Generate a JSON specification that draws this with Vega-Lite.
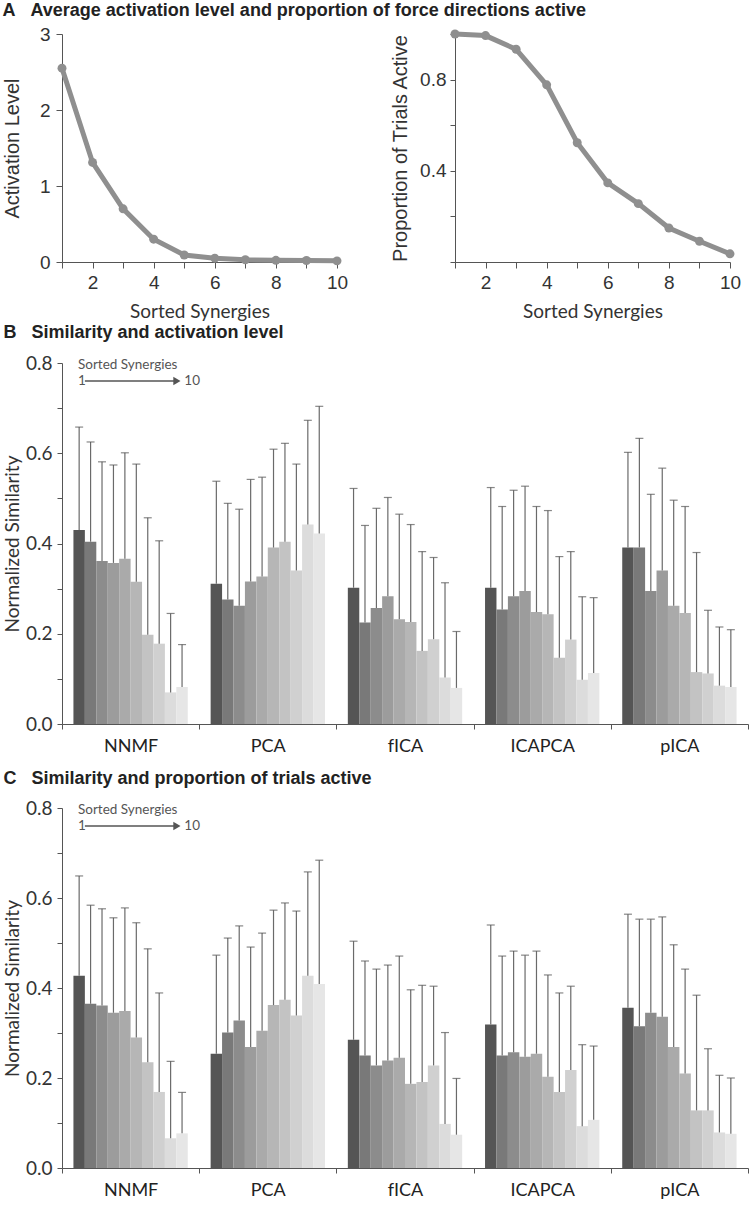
{
  "$schema": "https://vega.github.io/schema/vega-lite/v6.json",
  "padding": {"left": 2, "top": 2, "right": 2, "bottom": 2},
  "config": {
    "view": {"stroke": null},
    "axis": {"grid": false, "domainColor": "#555", "tickColor": "#555", "labelColor": "#333", "titleColor": "#333", "titleFontWeight": "normal"},
    "title": {"font": "Liberation Sans", "fontWeight": "bold", "fontSize": 18, "anchor": "start", "color": "#222"}
  },
  "datasets": {
    "act": [
      {"syn": 1, "act": 2.55, "prop": 1.0},
      {"syn": 2, "act": 1.31, "prop": 0.993},
      {"syn": 3, "act": 0.70, "prop": 0.933},
      {"syn": 4, "act": 0.30, "prop": 0.777},
      {"syn": 5, "act": 0.092, "prop": 0.523},
      {"syn": 6, "act": 0.05, "prop": 0.347},
      {"syn": 7, "act": 0.03, "prop": 0.256},
      {"syn": 8, "act": 0.022, "prop": 0.149},
      {"syn": 9, "act": 0.02, "prop": 0.091},
      {"syn": 10, "act": 0.015, "prop": 0.036}
    ],
    "ann": [
      {"kind": "text", "pos": 1.4, "y": 0.795, "label": "Sorted Synergies"},
      {"kind": "text", "pos": 1.4, "y": 0.76, "label": "1"},
      {"kind": "text", "pos": 10.7, "y": 0.76, "label": "10"},
      {"kind": "line", "pos": 2.0, "pos2": 9.8, "y": 0.76},
      {"kind": "head", "pos": 10.05, "y": 0.76}
    ],
    "sim": [
      {"panel": "B", "method": "NNMF", "syn": 1, "mean": 0.430, "upper": 0.658},
      {"panel": "B", "method": "NNMF", "syn": 2, "mean": 0.404, "upper": 0.625},
      {"panel": "B", "method": "NNMF", "syn": 3, "mean": 0.361, "upper": 0.581},
      {"panel": "B", "method": "NNMF", "syn": 4, "mean": 0.357, "upper": 0.574},
      {"panel": "B", "method": "NNMF", "syn": 5, "mean": 0.366, "upper": 0.601},
      {"panel": "B", "method": "NNMF", "syn": 6, "mean": 0.315, "upper": 0.576},
      {"panel": "B", "method": "NNMF", "syn": 7, "mean": 0.198, "upper": 0.457},
      {"panel": "B", "method": "NNMF", "syn": 8, "mean": 0.178, "upper": 0.406},
      {"panel": "B", "method": "NNMF", "syn": 9, "mean": 0.070, "upper": 0.245},
      {"panel": "B", "method": "NNMF", "syn": 10, "mean": 0.082, "upper": 0.176},
      {"panel": "B", "method": "PCA", "syn": 1, "mean": 0.311, "upper": 0.538},
      {"panel": "B", "method": "PCA", "syn": 2, "mean": 0.276, "upper": 0.489},
      {"panel": "B", "method": "PCA", "syn": 3, "mean": 0.262, "upper": 0.476},
      {"panel": "B", "method": "PCA", "syn": 4, "mean": 0.316, "upper": 0.542},
      {"panel": "B", "method": "PCA", "syn": 5, "mean": 0.327, "upper": 0.547},
      {"panel": "B", "method": "PCA", "syn": 6, "mean": 0.391, "upper": 0.609},
      {"panel": "B", "method": "PCA", "syn": 7, "mean": 0.404, "upper": 0.622},
      {"panel": "B", "method": "PCA", "syn": 8, "mean": 0.340, "upper": 0.576},
      {"panel": "B", "method": "PCA", "syn": 9, "mean": 0.442, "upper": 0.673},
      {"panel": "B", "method": "PCA", "syn": 10, "mean": 0.422, "upper": 0.704},
      {"panel": "B", "method": "fICA", "syn": 1, "mean": 0.302, "upper": 0.522},
      {"panel": "B", "method": "fICA", "syn": 2, "mean": 0.225, "upper": 0.440},
      {"panel": "B", "method": "fICA", "syn": 3, "mean": 0.257, "upper": 0.478},
      {"panel": "B", "method": "fICA", "syn": 4, "mean": 0.283, "upper": 0.502},
      {"panel": "B", "method": "fICA", "syn": 5, "mean": 0.232, "upper": 0.465},
      {"panel": "B", "method": "fICA", "syn": 6, "mean": 0.226, "upper": 0.442},
      {"panel": "B", "method": "fICA", "syn": 7, "mean": 0.162, "upper": 0.382},
      {"panel": "B", "method": "fICA", "syn": 8, "mean": 0.188, "upper": 0.369},
      {"panel": "B", "method": "fICA", "syn": 9, "mean": 0.103, "upper": 0.313},
      {"panel": "B", "method": "fICA", "syn": 10, "mean": 0.080, "upper": 0.205},
      {"panel": "B", "method": "ICAPCA", "syn": 1, "mean": 0.302, "upper": 0.524},
      {"panel": "B", "method": "ICAPCA", "syn": 2, "mean": 0.254, "upper": 0.482},
      {"panel": "B", "method": "ICAPCA", "syn": 3, "mean": 0.283, "upper": 0.518},
      {"panel": "B", "method": "ICAPCA", "syn": 4, "mean": 0.295, "upper": 0.527},
      {"panel": "B", "method": "ICAPCA", "syn": 5, "mean": 0.248, "upper": 0.482},
      {"panel": "B", "method": "ICAPCA", "syn": 6, "mean": 0.243, "upper": 0.473},
      {"panel": "B", "method": "ICAPCA", "syn": 7, "mean": 0.147, "upper": 0.371},
      {"panel": "B", "method": "ICAPCA", "syn": 8, "mean": 0.187, "upper": 0.382},
      {"panel": "B", "method": "ICAPCA", "syn": 9, "mean": 0.098, "upper": 0.282},
      {"panel": "B", "method": "ICAPCA", "syn": 10, "mean": 0.113, "upper": 0.280},
      {"panel": "B", "method": "pICA", "syn": 1, "mean": 0.391, "upper": 0.602},
      {"panel": "B", "method": "pICA", "syn": 2, "mean": 0.391, "upper": 0.633},
      {"panel": "B", "method": "pICA", "syn": 3, "mean": 0.295, "upper": 0.509},
      {"panel": "B", "method": "pICA", "syn": 4, "mean": 0.340, "upper": 0.567},
      {"panel": "B", "method": "pICA", "syn": 5, "mean": 0.262, "upper": 0.496},
      {"panel": "B", "method": "pICA", "syn": 6, "mean": 0.246, "upper": 0.482},
      {"panel": "B", "method": "pICA", "syn": 7, "mean": 0.115, "upper": 0.380},
      {"panel": "B", "method": "pICA", "syn": 8, "mean": 0.112, "upper": 0.252},
      {"panel": "B", "method": "pICA", "syn": 9, "mean": 0.085, "upper": 0.215},
      {"panel": "B", "method": "pICA", "syn": 10, "mean": 0.082, "upper": 0.209},
      {"panel": "C", "method": "NNMF", "syn": 1, "mean": 0.427, "upper": 0.649},
      {"panel": "C", "method": "NNMF", "syn": 2, "mean": 0.365, "upper": 0.584},
      {"panel": "C", "method": "NNMF", "syn": 3, "mean": 0.361, "upper": 0.576},
      {"panel": "C", "method": "NNMF", "syn": 4, "mean": 0.345, "upper": 0.556},
      {"panel": "C", "method": "NNMF", "syn": 5, "mean": 0.349, "upper": 0.578},
      {"panel": "C", "method": "NNMF", "syn": 6, "mean": 0.290, "upper": 0.545},
      {"panel": "C", "method": "NNMF", "syn": 7, "mean": 0.235, "upper": 0.487},
      {"panel": "C", "method": "NNMF", "syn": 8, "mean": 0.169, "upper": 0.389},
      {"panel": "C", "method": "NNMF", "syn": 9, "mean": 0.066, "upper": 0.237},
      {"panel": "C", "method": "NNMF", "syn": 10, "mean": 0.077, "upper": 0.168},
      {"panel": "C", "method": "PCA", "syn": 1, "mean": 0.254, "upper": 0.473},
      {"panel": "C", "method": "PCA", "syn": 2, "mean": 0.301, "upper": 0.511},
      {"panel": "C", "method": "PCA", "syn": 3, "mean": 0.328, "upper": 0.538},
      {"panel": "C", "method": "PCA", "syn": 4, "mean": 0.269, "upper": 0.491},
      {"panel": "C", "method": "PCA", "syn": 5, "mean": 0.305, "upper": 0.522},
      {"panel": "C", "method": "PCA", "syn": 6, "mean": 0.362, "upper": 0.573},
      {"panel": "C", "method": "PCA", "syn": 7, "mean": 0.374, "upper": 0.589},
      {"panel": "C", "method": "PCA", "syn": 8, "mean": 0.339, "upper": 0.571},
      {"panel": "C", "method": "PCA", "syn": 9, "mean": 0.427, "upper": 0.658},
      {"panel": "C", "method": "PCA", "syn": 10, "mean": 0.409, "upper": 0.684},
      {"panel": "C", "method": "fICA", "syn": 1, "mean": 0.285, "upper": 0.504},
      {"panel": "C", "method": "fICA", "syn": 2, "mean": 0.250, "upper": 0.460},
      {"panel": "C", "method": "fICA", "syn": 3, "mean": 0.228, "upper": 0.442},
      {"panel": "C", "method": "fICA", "syn": 4, "mean": 0.239, "upper": 0.451},
      {"panel": "C", "method": "fICA", "syn": 5, "mean": 0.245, "upper": 0.471},
      {"panel": "C", "method": "fICA", "syn": 6, "mean": 0.187, "upper": 0.396},
      {"panel": "C", "method": "fICA", "syn": 7, "mean": 0.191, "upper": 0.406},
      {"panel": "C", "method": "fICA", "syn": 8, "mean": 0.228, "upper": 0.404},
      {"panel": "C", "method": "fICA", "syn": 9, "mean": 0.098, "upper": 0.301},
      {"panel": "C", "method": "fICA", "syn": 10, "mean": 0.074, "upper": 0.199},
      {"panel": "C", "method": "ICAPCA", "syn": 1, "mean": 0.319, "upper": 0.540},
      {"panel": "C", "method": "ICAPCA", "syn": 2, "mean": 0.250, "upper": 0.471},
      {"panel": "C", "method": "ICAPCA", "syn": 3, "mean": 0.257, "upper": 0.482},
      {"panel": "C", "method": "ICAPCA", "syn": 4, "mean": 0.247, "upper": 0.473},
      {"panel": "C", "method": "ICAPCA", "syn": 5, "mean": 0.254, "upper": 0.482},
      {"panel": "C", "method": "ICAPCA", "syn": 6, "mean": 0.203, "upper": 0.429},
      {"panel": "C", "method": "ICAPCA", "syn": 7, "mean": 0.169, "upper": 0.389},
      {"panel": "C", "method": "ICAPCA", "syn": 8, "mean": 0.218, "upper": 0.404},
      {"panel": "C", "method": "ICAPCA", "syn": 9, "mean": 0.093, "upper": 0.274},
      {"panel": "C", "method": "ICAPCA", "syn": 10, "mean": 0.107, "upper": 0.271},
      {"panel": "C", "method": "pICA", "syn": 1, "mean": 0.356, "upper": 0.564},
      {"panel": "C", "method": "pICA", "syn": 2, "mean": 0.315, "upper": 0.553},
      {"panel": "C", "method": "pICA", "syn": 3, "mean": 0.345, "upper": 0.553},
      {"panel": "C", "method": "pICA", "syn": 4, "mean": 0.336, "upper": 0.558},
      {"panel": "C", "method": "pICA", "syn": 5, "mean": 0.269, "upper": 0.496},
      {"panel": "C", "method": "pICA", "syn": 6, "mean": 0.210, "upper": 0.442},
      {"panel": "C", "method": "pICA", "syn": 7, "mean": 0.128, "upper": 0.384},
      {"panel": "C", "method": "pICA", "syn": 8, "mean": 0.128, "upper": 0.265},
      {"panel": "C", "method": "pICA", "syn": 9, "mean": 0.079, "upper": 0.206},
      {"panel": "C", "method": "pICA", "syn": 10, "mean": 0.076, "upper": 0.200}
    ]
  },
  "spacing": 3,
  "vconcat": [
    {
      "title": {"text": "A\u00a0\u00a0\u00a0Average activation level and proportion of force directions active", "offset": 4},
      "spacing": 42,
      "hconcat": [
        {
          "width": 275, "height": 228,
          "data": {"name": "act"},
          "encoding": {
            "x": {"field": "syn", "type": "quantitative", "scale": {"domain": [1, 10], "nice": false, "zero": false},
                  "axis": {"title": "Sorted Synergies", "values": [1,2,3,4,5,6,7,8,9,10], "labelExpr": "datum.value % 2 == 0 ? datum.label : ''",
                           "labelFont": "Liberation Sans", "labelFontSize": 19, "labelPadding": 5, "tickSize": 6, "labelFlush": false,
                           "titleFont": "Lato", "titleFontSize": 19, "titlePadding": 10}},
            "y": {"field": "act", "type": "quantitative", "scale": {"domain": [0, 3], "nice": false},
                  "axis": {"title": "Activation Level", "values": [0,1,2,3], "labelFont": "Liberation Sans", "labelFontSize": 19, "labelPadding": 6, "tickSize": 6,
                           "titleFont": "Liberation Sans", "titleFontSize": 20, "titlePadding": 17}}
          },
          "layer": [
            {"mark": {"type": "line", "color": "#8f8f8f", "strokeWidth": 5}},
            {"mark": {"type": "circle", "color": "#8f8f8f", "size": 80, "opacity": 1}}
          ]
        },
        {
          "width": 275, "height": 228,
          "data": {"name": "act"},
          "encoding": {
            "x": {"field": "syn", "type": "quantitative", "scale": {"domain": [1, 10], "nice": false, "zero": false},
                  "axis": {"title": "Sorted Synergies", "values": [1,2,3,4,5,6,7,8,9,10], "labelExpr": "datum.value % 2 == 0 ? datum.label : ''",
                           "labelFont": "Liberation Sans", "labelFontSize": 19, "labelPadding": 5, "tickSize": 6, "labelFlush": false,
                           "titleFont": "Lato", "titleFontSize": 19, "titlePadding": 10}},
            "y": {"field": "prop", "type": "quantitative", "scale": {"domain": [0, 1], "nice": false},
                  "axis": {"title": "Proportion of Trials Active", "values": [0,0.2,0.4,0.6,0.8,1.0],
                           "labelExpr": "(abs(datum.value-0.4)<0.01 || abs(datum.value-0.8)<0.01) ? format(datum.value, '.1f') : ''",
                           "labelFont": "Liberation Sans", "labelFontSize": 19, "labelPadding": 4, "tickSize": 5,
                           "titleFont": "Liberation Sans", "titleFontSize": 20, "titlePadding": 9}}
          },
          "layer": [
            {"mark": {"type": "line", "color": "#8f8f8f", "strokeWidth": 5}},
            {"mark": {"type": "circle", "color": "#8f8f8f", "size": 80, "opacity": 1}}
          ]
        }
      ]
    },
    {
      "spacing": 15,
      "vconcat": [
        {
          "title": {"text": "B\u00a0\u00a0\u00a0Similarity and activation level", "offset": 12},
          "width": 686, "height": 361,
          "resolve": {"scale": {"x": "independent"}},
          "layer": [
            {
              "data": {"name": "sim"},
              "transform": [{"filter": "datum.panel == 'B'"}],
              "encoding": {
                "x": {"field": "method", "type": "nominal", "sort": ["NNMF", "PCA", "fICA", "ICAPCA", "pICA"], "scale": {"paddingInner": 0, "paddingOuter": 0},
                      "axis": {"title": null, "tickBand": "extent", "labelAngle": 0, "labelFont": "Lato", "labelFontSize": 18, "labelColor": "#222", "labelPadding": 8, "tickSize": 5}},
                "xOffset": {"field": "syn", "type": "ordinal", "scale": {"paddingInner": 0, "paddingOuter": 1}}
              },
              "layer": [
                {"mark": {"type": "bar"},
                 "encoding": {
                   "y": {"field": "mean", "type": "quantitative", "scale": {"domain": [0, 0.8], "nice": false}, "title": "Normalized Similarity",
                         "axis": {"values": [0,0.1,0.2,0.3,0.4,0.5,0.6,0.7,0.8], "labelExpr": "round(datum.value*10) % 2 == 0 ? format(datum.value, '.1f') : ''",
                                  "labelFont": "Lato", "labelFontSize": 19, "labelPadding": 5, "tickSize": 5, "titleFont": "Lato", "titleFontSize": 19, "titlePadding": 3}},
                   "color": {"field": "syn", "type": "ordinal", "legend": null,
                             "scale": {"range": ["#555555", "#797979", "#8c8c8c", "#9c9c9c", "#aaaaaa", "#b6b6b6", "#c3c3c3", "#d0d0d0", "#dcdcdc", "#e6e6e6"]}}
                 }},
                {"mark": {"type": "rule", "color": "#6a6a6a", "strokeWidth": 1.2},
                 "encoding": {"y": {"field": "mean", "type": "quantitative", "title": "Normalized Similarity"}, "y2": {"field": "upper"}}},
                {"mark": {"type": "tick", "color": "#555", "thickness": 1.2, "size": 8},
                 "encoding": {"y": {"field": "upper", "type": "quantitative", "title": "Normalized Similarity"}}}
              ]
            },
            {
              "data": {"name": "ann"},
              "encoding": {
                "x": {"field": "pos", "type": "quantitative", "scale": {"domain": [0, 60], "nice": false, "zero": false}, "axis": null},
                "y": {"field": "y", "type": "quantitative", "title": "Normalized Similarity"}
              },
              "layer": [
                {"transform": [{"filter": "datum.kind == 'text'"}],
                 "mark": {"type": "text", "align": "left", "baseline": "middle", "font": "Lato", "fontSize": 13.5, "color": "#555"},
                 "encoding": {"text": {"field": "label"}}},
                {"transform": [{"filter": "datum.kind == 'line'"}],
                 "mark": {"type": "rule", "color": "#555", "strokeWidth": 1.5},
                 "encoding": {"x2": {"field": "pos2"}}},
                {"transform": [{"filter": "datum.kind == 'head'"}],
                 "mark": {"type": "point", "shape": "triangle-right", "filled": true, "color": "#555", "size": 70, "opacity": 1}}
              ]
            }
          ]
        },
        {
          "title": {"text": "C\u00a0\u00a0\u00a0Similarity and proportion of trials active", "offset": 11},
          "width": 686, "height": 360,
          "resolve": {"scale": {"x": "independent"}},
          "layer": [
            {
              "data": {"name": "sim"},
              "transform": [{"filter": "datum.panel == 'C'"}],
              "encoding": {
                "x": {"field": "method", "type": "nominal", "sort": ["NNMF", "PCA", "fICA", "ICAPCA", "pICA"], "scale": {"paddingInner": 0, "paddingOuter": 0},
                      "axis": {"title": null, "tickBand": "extent", "labelAngle": 0, "labelFont": "Lato", "labelFontSize": 18, "labelColor": "#222", "labelPadding": 8, "tickSize": 5}},
                "xOffset": {"field": "syn", "type": "ordinal", "scale": {"paddingInner": 0, "paddingOuter": 1}}
              },
              "layer": [
                {"mark": {"type": "bar"},
                 "encoding": {
                   "y": {"field": "mean", "type": "quantitative", "scale": {"domain": [0, 0.8], "nice": false}, "title": "Normalized Similarity",
                         "axis": {"values": [0,0.1,0.2,0.3,0.4,0.5,0.6,0.7,0.8], "labelExpr": "round(datum.value*10) % 2 == 0 ? format(datum.value, '.1f') : ''",
                                  "labelFont": "Lato", "labelFontSize": 19, "labelPadding": 5, "tickSize": 5, "titleFont": "Lato", "titleFontSize": 19, "titlePadding": 3}},
                   "color": {"field": "syn", "type": "ordinal", "legend": null,
                             "scale": {"range": ["#555555", "#797979", "#8c8c8c", "#9c9c9c", "#aaaaaa", "#b6b6b6", "#c3c3c3", "#d0d0d0", "#dcdcdc", "#e6e6e6"]}}
                 }},
                {"mark": {"type": "rule", "color": "#6a6a6a", "strokeWidth": 1.2},
                 "encoding": {"y": {"field": "mean", "type": "quantitative", "title": "Normalized Similarity"}, "y2": {"field": "upper"}}},
                {"mark": {"type": "tick", "color": "#555", "thickness": 1.2, "size": 8},
                 "encoding": {"y": {"field": "upper", "type": "quantitative", "title": "Normalized Similarity"}}}
              ]
            },
            {
              "data": {"name": "ann"},
              "encoding": {
                "x": {"field": "pos", "type": "quantitative", "scale": {"domain": [0, 60], "nice": false, "zero": false}, "axis": null},
                "y": {"field": "y", "type": "quantitative", "title": "Normalized Similarity"}
              },
              "layer": [
                {"transform": [{"filter": "datum.kind == 'text'"}],
                 "mark": {"type": "text", "align": "left", "baseline": "middle", "font": "Lato", "fontSize": 13.5, "color": "#555"},
                 "encoding": {"text": {"field": "label"}}},
                {"transform": [{"filter": "datum.kind == 'line'"}],
                 "mark": {"type": "rule", "color": "#555", "strokeWidth": 1.5},
                 "encoding": {"x2": {"field": "pos2"}}},
                {"transform": [{"filter": "datum.kind == 'head'"}],
                 "mark": {"type": "point", "shape": "triangle-right", "filled": true, "color": "#555", "size": 70, "opacity": 1}}
              ]
            }
          ]
        }
      ]
    }
  ]
}
